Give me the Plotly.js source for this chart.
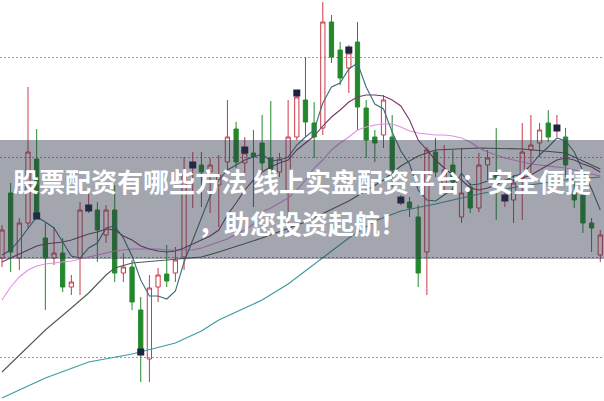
<!DOCTYPE html>
<html><head><meta charset="utf-8">
<script src="https://cdn.plot.ly/plotly-3.0.1.min.js"></script>
<style>html,body{margin:0;padding:0;background:#fff;overflow:hidden;} #chart{width:604px;height:401px;}</style>
</head><body><div id="chart"></div>
<script>
// OHLC values (price units), one per trading day
const open = [10.99,11.64,10.99,11.34,11.98,11.19,10.99,11.04,10.70,10.99, 11.48,11.47,11.22,11.47,10.84,10.90,10.47,9.98,10.70,10.83, 10.84,11.00,11.91,11.92,11.85,11.72,11.95,12.28,11.94,12.04, 12.14,11.99,11.85,11.64,12.20,12.57,12.34,12.29,13.35,13.07, 12.89,13.15,12.49,12.20,12.22,12.20,11.56,11.55,11.40,11.05, 12.05,11.72,11.92,11.40,11.70,11.49,11.92,11.84,11.58,11.57, 11.79,12.07,12.14,12.34,12.28,12.20,11.65,11.62,11.34,11.02];
const high = [11.32,11.74,11.39,12.70,12.28,11.34,11.30,11.19,10.82,11.55, 11.70,11.55,11.52,11.72,11.04,10.97,10.60,10.82,10.89,11.12, 11.10,12.00,12.05,12.05,11.99,12.02,12.57,12.35,12.20,12.27, 12.42,12.56,12.04,12.57,12.64,13.00,12.55,13.55,13.42,13.15, 13.12,13.35,12.57,12.27,12.62,12.42,11.62,11.60,11.52,12.10, 12.19,12.12,12.07,12.09,11.74,12.04,12.07,12.29,11.64,11.82, 12.34,12.42,12.34,12.47,12.42,12.29,11.79,11.67,11.39,11.27];
const low = [10.90,10.85,10.87,11.29,11.39,10.47,10.92,10.65,10.62,10.62, 11.44,10.95,11.14,10.75,10.75,10.47,9.75,9.75,10.55,10.70, 10.75,10.87,11.49,11.50,11.44,11.30,11.85,11.89,11.84,11.50, 11.85,11.82,11.80,11.25,12.17,12.20,11.99,12.22,12.94,12.72, 12.64,12.27,11.99,11.95,12.09,11.70,11.52,11.40,10.70,10.62, 11.80,11.64,11.67,11.34,11.44,11.45,11.77,11.37,11.50,11.34, 11.37,11.84,12.00,12.15,12.20,11.80,11.49,11.24,11.05,10.95];
const close = [11.27,11.05,11.34,12.05,11.44,10.99,11.04,10.70,10.75,11.47, 11.50,11.27,11.47,10.84,10.90,10.55,10.07,10.69,10.82,10.76, 10.97,11.82,11.93,11.85,11.92,11.82,12.20,11.95,12.04,12.00, 11.94,11.87,11.98,12.20,12.60,12.35,12.20,13.35,13.00,12.79, 13.04,12.50,12.17,12.14,12.57,11.87,11.58,11.49,10.84,12.07, 11.85,11.87,11.75,11.64,11.49,11.92,11.99,11.79,11.60,11.74, 12.05,12.12,12.27,12.20,12.30,11.92,11.57,11.34,11.29,11.22];

// Moving-average lines
const ma5 = [11.02,11.07,11.17,11.29,11.40,11.35,11.29,11.15,11.01,10.99, 11.09,11.14,11.29,11.31,11.19,11.01,10.77,10.61,10.61,10.58, 10.66,10.95,11.17,11.39,11.61,11.77,11.87,11.92,11.97,12.00, 12.03,11.96,11.97,12.00,12.12,12.20,12.27,12.54,12.70,12.74, 12.88,12.94,12.70,12.53,12.48,12.25,12.06,11.93,11.67,11.57, 11.56,11.62,11.68,11.84,11.72,11.73,11.76,11.77,11.76,11.81, 11.83,11.92,12.02,12.10,12.19,12.16,12.05,11.86,11.68,11.47];
const ma10 = [10.95,10.99,11.03,11.07,11.11,11.13,11.14,11.15,11.17,11.20, 11.23,11.25,11.28,11.27,11.21,11.17,11.11,11.08,11.06,11.05, 11.06,11.09,11.13,11.17,11.21,11.27,11.42,11.54,11.67,11.77, 11.85,11.90,11.94,11.97,12.07,12.14,12.21,12.31,12.40,12.47, 12.55,12.60,12.62,12.62,12.61,12.57,12.51,12.37,12.17,12.07, 11.97,11.89,11.82,11.77,11.69,11.67,11.69,11.72,11.77,11.77, 11.79,11.82,11.87,11.92,11.97,11.99,11.97,11.93,11.90,11.85];
const ma20 = [10.57,10.70,10.80,10.87,10.91,10.93,10.94,10.95,10.96,10.98, 11.00,11.02,11.04,11.06,11.07,11.08,11.08,11.08,11.08,11.07, 11.07,11.07,11.07,11.09,11.12,11.15,11.18,11.23,11.27,11.33, 11.45,11.49,11.54,11.59,11.67,11.77,11.89,11.97,12.07,12.14, 12.20,12.27,12.30,12.32,12.33,12.33,12.30,12.26,12.24,12.23, 12.22,12.22,12.21,12.19,12.15,12.09,12.05,12.02,11.99,11.97, 11.95,11.93,11.92,11.91,11.90,11.89,11.87,11.85,11.83,11.81];
const ma30Day = [0,5,8,10,12,13,15,20,23,25,30,35,40,44,46,48,50,55,60,65,69];
const ma30 = [9.85,10.27,10.49,10.64,10.82,10.89,10.94,10.98,11.00,11.05,11.19,11.35,11.56,11.77,11.91,12.01,12.07,12.09,12.08,12.04,11.88];
const ma60Day = [0,5,10,15,20,23,25,30,33,36,40,43,46,50,55,60,65,69];
const ma60 = [9.59,9.79,9.95,10.03,10.14,10.26,10.37,10.57,10.73,10.93,11.19,11.36,11.46,11.53,11.63,11.71,11.77,11.80];

// Marked days (small dark square markers)
const markDay = [4,10,16,22,28,34,40,46,58,64];
const markVal = [11.41,11.49,10.05,11.92,12.07,12.64,13.07,11.57,11.59,12.29];

const gridVals = [10,11,12,13];
const titleLine1 = '股票配资有哪些方法 线上实盘配资平台：安全便捷';
const titleLine2 = '，助您投资起航！';

const day = open.map((_, i) => i);

const traces = [
  {
    type: 'candlestick', x: day, open: open, high: high, low: low, close: close,
    increasing: {line: {color: '#cc3a48', width: 1}, fillcolor: 'rgba(0,0,0,0)'},
    decreasing: {line: {color: '#23892c', width: 1}, fillcolor: '#23892c'},
    hoverinfo: 'skip', showlegend: false
  },
  {type: 'scatter', mode: 'lines', x: ma60Day, y: ma60, line: {color: '#3f9ca2', width: 1.2}, hoverinfo: 'skip', showlegend: false},
  {type: 'scatter', mode: 'lines', x: ma30Day, y: ma30, line: {color: '#4d5c52', width: 1.1}, hoverinfo: 'skip', showlegend: false},
  {type: 'scatter', mode: 'lines', x: day, y: ma20, line: {color: '#e48ee6', width: 1.1}, hoverinfo: 'skip', showlegend: false},
  {type: 'scatter', mode: 'lines', x: day, y: ma10, line: {color: '#7a3a6c', width: 1.1}, hoverinfo: 'skip', showlegend: false},
  {type: 'scatter', mode: 'lines', x: day, y: ma5, line: {color: '#3a6e7c', width: 1.1}, hoverinfo: 'skip', showlegend: false},
  {type: 'scatter', mode: 'markers', x: markDay, y: markVal,
   marker: {symbol: 'square', size: 7, color: '#1e2340'}, hoverinfo: 'skip', showlegend: false}
];

const layout = {
  width: 604, height: 401,
  margin: {l: 0, r: 0, t: 0, b: 0, pad: 0},
  paper_bgcolor: '#ffffff', plot_bgcolor: '#ffffff',
  showlegend: false,
  xaxis: {range: [-0.23, 69.43], showgrid: false, zeroline: false, showticklabels: false, ticks: '', showline: false, rangeslider: {visible: false}, fixedrange: true},
  yaxis: {range: [9.56, 13.57], tickvals: gridVals, showticklabels: false, ticks: '', zeroline: false, showline: false,
          showgrid: true, gridcolor: '#9a9a9a', gridwidth: 1, griddash: '1.5px,2.5px', fixedrange: true},
  shapes: [{type: 'rect', xref: 'paper', yref: 'paper', x0: 0, x1: 1, y0: 0.354, y1: 0.651,
            fillcolor: 'rgba(45,52,70,0.44)', line: {width: 0}, layer: 'above'}],
  annotations: [
    {xref: 'paper', yref: 'paper', x: 0.5, y: 0.549, xanchor: 'center', yanchor: 'middle', showarrow: false,
     text: '<b>' + titleLine1 + '</b>', font: {family: '"Noto Sans CJK SC", "Noto Sans", sans-serif', size: 26, color: '#ffffff'}},
    {xref: 'paper', yref: 'paper', x: 0.5, y: 0.444, xanchor: 'center', yanchor: 'middle', showarrow: false,
     text: '<b>' + titleLine2 + '</b>', font: {family: '"Noto Sans CJK SC", "Noto Sans", sans-serif', size: 26, color: '#ffffff'}}
  ]
};

Plotly.newPlot('chart', traces, layout, {staticPlot: true, displayModeBar: false});
</script></body></html>
